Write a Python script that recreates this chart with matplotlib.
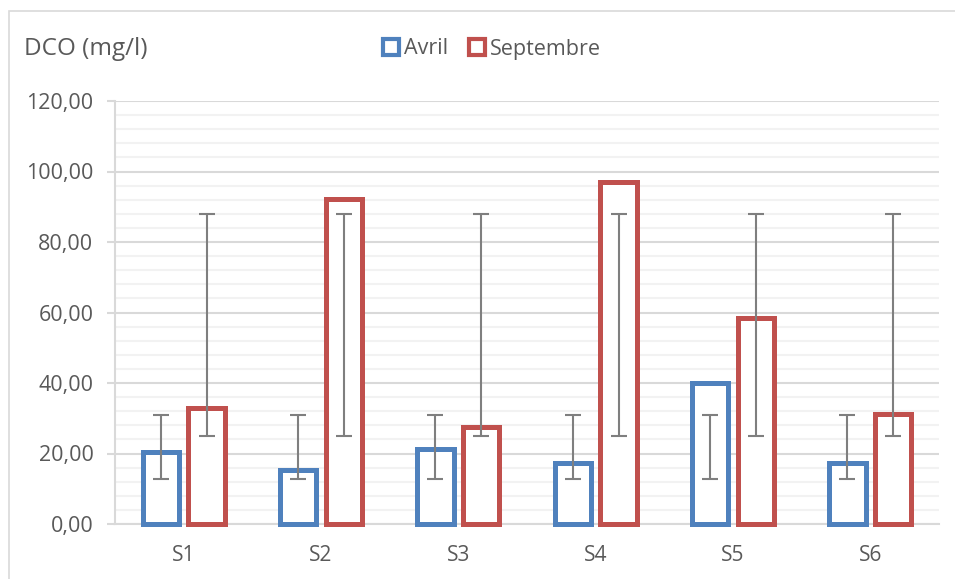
import matplotlib
matplotlib.use("Agg")
import matplotlib.pyplot as plt
import numpy as np
from matplotlib.patches import Rectangle

plt.rcParams['font.family'] = ['Open Sans', 'DejaVu Sans']

stations = ["S1", "S2", "S3", "S4", "S5", "S6"]
avril = [20.3, 15.3, 21.4, 17.2, 39.9, 17.2]
septembre = [33.0, 92.3, 27.6, 97.1, 58.3, 31.1]
series_names = ["Avril", "Septembre"]
y_ticks = [0, 20, 40, 60, 80, 100, 120]
y_label = "DCO (mg/l)"

blue = "#4F81BD"
red = "#C0504D"
grid_major = "#D9D9D9"
grid_minor = "#F2F2F2"
text_col = "#595959"
err_col = "#7F7F7F"

W, H = 955, 579
fig = plt.figure(figsize=(W / 100, H / 100), dpi=100)
fig.patch.set_facecolor("white")

# chart frame
fig.patches.append(Rectangle((9 / W, -0.1), 1.2, 1 - 11 / H + 0.1,
                             transform=fig.transFigure, fill=False,
                             edgecolor=grid_major, lw=1.2, zorder=0))

left, right, top, bottom = 115, 939, 101, 524
ax = fig.add_axes([left / W, 1 - bottom / H, (right - left) / W, (bottom - top) / H])

x = np.arange(len(stations))
offset = 0.167
width = 0.265

for vals, col, sgn, name in [(avril, blue, -1, series_names[0]),
                             (septembre, red, 1, series_names[1])]:
    ax.bar(x + sgn * offset, vals, width=width, facecolor="white",
           edgecolor=col, linewidth=3.6, zorder=3, clip_on=False, label=name)
    # standard-deviation error bars around the series mean
    v = np.asarray(vals)
    mean = v.mean()
    sd = v.std(ddof=1)
    ax.errorbar(x + sgn * offset, np.full_like(v, mean), yerr=np.full_like(v, sd),
                fmt="none", ecolor=err_col, elinewidth=1.5, capsize=5.5,
                capthick=1.5, zorder=4)

ax.set_ylim(0, 120)
ax.set_xlim(-0.5, len(stations) - 0.5)
ax.set_yticks(y_ticks)
ax.set_yticklabels([f"{t:.2f}".replace(".", ",") for t in y_ticks])
ax.set_yticks(np.arange(0, 121, 4), minor=True)
ax.set_xticks(x)
ax.set_xticklabels(stations)

ax.grid(axis="y", which="major", color=grid_major, lw=1.5, zorder=0)
ax.grid(axis="y", which="minor", color=grid_minor, lw=1.5, zorder=0)
ax.set_axisbelow(True)

for s in ["top", "right"]:
    ax.spines[s].set_visible(False)
for s in ["left", "bottom"]:
    ax.spines[s].set_color(grid_major)
    ax.spines[s].set_linewidth(1.5)

ax.tick_params(axis="y", which="major", length=5.5, width=1.5, color=grid_major,
               labelcolor=text_col, labelsize=15.5, pad=10)
ax.tick_params(axis="y", which="minor", length=0)
ax.tick_params(axis="x", length=0, labelcolor=text_col, labelsize=15, pad=15)

fig.text(24 / W, 1 - 49 / H, y_label, color=text_col, fontsize=17.5,
         ha="left", va="center")

leg = fig.legend(loc="center", bbox_to_anchor=(492 / W, 1 - 49 / H), ncol=2,
                 frameon=False, fontsize=15.5, handlelength=0.75, handleheight=0.75,
                 handletextpad=0.2, columnspacing=1.0, labelcolor=text_col)
for h in leg.legend_handles:
    h.set_linewidth(3)

fig.savefig("out.png", dpi=100, facecolor="white")
